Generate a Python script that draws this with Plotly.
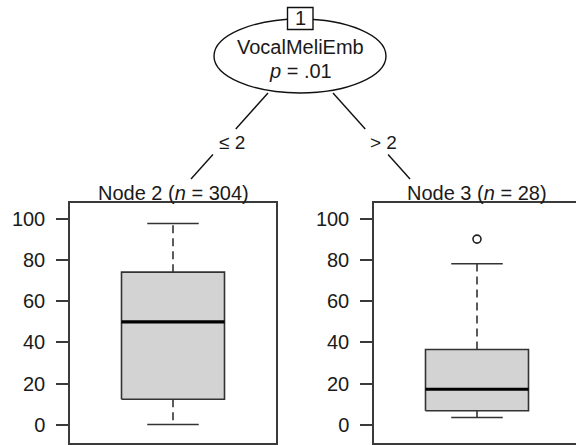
import plotly.graph_objects as go

# Conditional inference tree: one split on VocalMeliEmb, two terminal boxplots
node_names = ["Node 2", "Node 3"]
node_n = [304, 28]
lower_whisker = [0.0, 3.4]
q1 = [12.3, 6.7]
median = [50.0, 17.2]
q3 = [74.3, 36.6]
upper_whisker = [98.0, 78.4]
outliers = [[], [90.4]]
split_var = "VocalMeliEmb"
split_p = ".01"
split_labels = ["\u2264 2", "> 2"]
y_ticks = [0, 20, 40, 60, 80, 100]

W, H = 576, 445
FONT = "Liberation Sans, Arial, sans-serif"
INK = "#1a1a1a"
FRAME = "#3a3a3a"


def px(x):
    return x / W


def py(y):
    return 1 - y / H


BOX_C, BOX_HW, CAP_HW = 0.5, 0.25, 0.125

fig = go.Figure()

for i in range(len(node_names)):
    xa = "x" if i == 0 else f"x{i + 1}"
    ya = "y" if i == 0 else f"y{i + 1}"
    common = dict(xaxis=xa, yaxis=ya, showlegend=False, hoverinfo="skip", mode="lines")
    # box body
    fig.add_trace(go.Scatter(
        x=[BOX_C - BOX_HW, BOX_C + BOX_HW, BOX_C + BOX_HW, BOX_C - BOX_HW, BOX_C - BOX_HW],
        y=[q1[i], q1[i], q3[i], q3[i], q1[i]],
        fill="toself", fillcolor="#d3d3d3",
        line=dict(color="#333333", width=1.6), **common))
    # whiskers (dashed)
    for a, b in [(q3[i], upper_whisker[i]), (q1[i], lower_whisker[i])]:
        fig.add_trace(go.Scatter(x=[BOX_C, BOX_C], y=[a, b],
                                 line=dict(color="#333333", width=1.6, dash="8px,5px"), **common))
    # whisker caps
    for v in (upper_whisker[i], lower_whisker[i]):
        fig.add_trace(go.Scatter(x=[BOX_C - CAP_HW, BOX_C + CAP_HW], y=[v, v],
                                 line=dict(color="#333333", width=1.6), **common))
    # median
    fig.add_trace(go.Scatter(x=[BOX_C - BOX_HW, BOX_C + BOX_HW], y=[median[i], median[i]],
                             line=dict(color="#000000", width=3.2), **common))
    if outliers[i]:
        fig.add_trace(go.Scatter(
            x=[BOX_C] * len(outliers[i]), y=outliers[i], mode="markers",
            marker=dict(symbol="circle-open", size=8, color="#222222", line=dict(width=1.6)),
            xaxis=xa, yaxis=ya, showlegend=False, hoverinfo="skip"))
    # panel title
    fig.add_annotation(
        text=f"{node_names[i]} (<i>n</i> = {node_n[i]})",
        xref=xa, yref="paper", x=0.5, y=py(193.5), xanchor="center", yanchor="middle",
        showarrow=False, font=dict(family=FONT, size=20, color=INK))

yaxis_style = dict(
    range=[-9, 108], tickvals=y_ticks, ticks="outside", ticklen=12, tickwidth=1.5,
    tickcolor=FRAME, showgrid=False, zeroline=False, showline=True, linecolor=FRAME,
    linewidth=1.5, tickfont=dict(family=FONT, size=20, color=INK), ticklabelstandoff=7,
)
xaxis_style = dict(showgrid=False, zeroline=False, showticklabels=False, ticks="",
                   showline=True, mirror=True, linecolor=FRAME, linewidth=1.5)

panel_w = 276 - 70
fig.update_layout(
    width=W, height=H,
    margin=dict(l=0, r=0, t=0, b=0),
    paper_bgcolor="white", plot_bgcolor="white",
    xaxis=dict(domain=[px(70), px(276)], range=[0, 1], anchor="y", **xaxis_style),
    yaxis=dict(domain=[py(443), py(203)], anchor="x", mirror=True, **yaxis_style),
    xaxis2=dict(domain=[px(374), 1], range=[0, (W - 374) / panel_w], anchor="y2", **xaxis_style),
    yaxis2=dict(domain=[py(443), py(203)], anchor="x2", **yaxis_style),
)

# inner node: ellipse with id box
line_k = dict(color="#111111", width=1.4)
txt = dict(xref="paper", yref="paper", xanchor="center", yanchor="middle", showarrow=False)
fig.add_shape(type="circle", xref="paper", yref="paper",
              x0=px(214), x1=px(386), y0=py(93), y1=py(19), line=line_k, fillcolor="white")
fig.add_shape(type="rect", xref="paper", yref="paper",
              x0=px(287.5), x1=px(313), y0=py(29.5), y1=py(7.5), line=line_k, fillcolor="white")
fig.add_annotation(text="1", x=px(300.3), y=py(18.5),
                   font=dict(family=FONT, size=20, color=INK), **txt)
fig.add_annotation(text=split_var, x=px(300), y=py(46.5),
                   font=dict(family=FONT, size=20, color=INK), **txt)
fig.add_annotation(text=f"<i>p</i> = {split_p}", x=px(300), y=py(70.5),
                   font=dict(family=FONT, size=20, color=INK), **txt)

# edges from the split node to the terminal panels, broken around the split labels
edges = [((268, 93), (191, 179), (231.5, 143)), ((333, 93), (410, 179), (383.5, 143))]
for (x0, y0), (x1, y1), (lx, ly) in edges:
    t_top = (129 - y0) / (y1 - y0)
    t_bot = (154.5 - y0) / (y1 - y0)
    for ta, tb in [(0, t_top), (t_bot, 1)]:
        fig.add_shape(type="line", xref="paper", yref="paper",
                      x0=px(x0 + ta * (x1 - x0)), y0=py(y0 + ta * (y1 - y0)),
                      x1=px(x0 + tb * (x1 - x0)), y1=py(y0 + tb * (y1 - y0)), line=line_k)
for (_, _, (lx, ly)), lab in zip(edges, split_labels):
    fig.add_annotation(text=lab, x=px(lx), y=py(ly),
                       font=dict(family=FONT, size=19, color=INK), **txt)

fig.write_html("out.html")
